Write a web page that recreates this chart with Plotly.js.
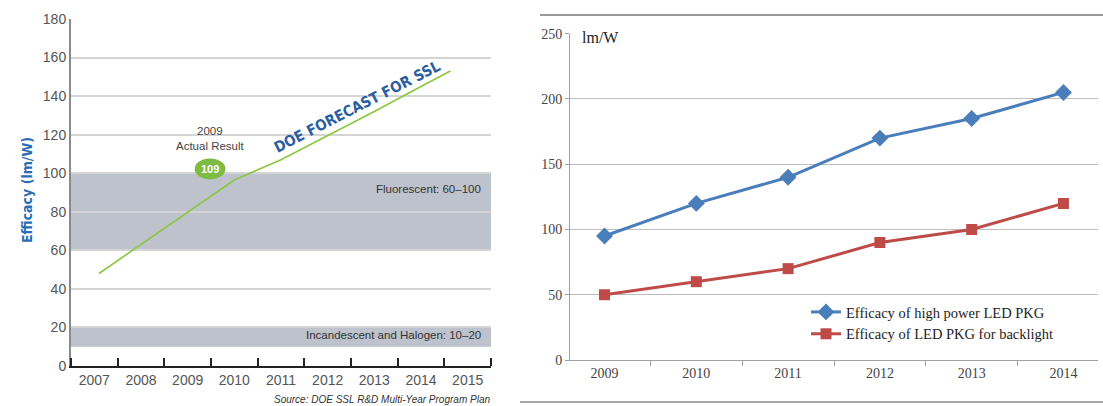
<!DOCTYPE html>
<html>
<head>
<meta charset="utf-8">
<script src="https://cdn.plot.ly/plotly-3.0.1.min.js"></script>
<style>html,body{margin:0;padding:0;background:#fff;}#chart{width:1103px;height:406px;}</style>
</head>
<body>
<div id="chart"></div>
<script>
// ---- Left chart: DOE forecast for SSL ----
const leftYears = [2007, 2008, 2009, 2010, 2011, 2012, 2013, 2014, 2015];
const leftYearLabels = ['2007', '2008', '2009', '2010', '2011', '2012', '2013', '2014', '2015'];
const forecastX = [2007.1, 2008, 2009, 2010, 2011, 2012, 2013, 2014, 2014.63];
const forecastY = [48, 63, 80, 96.5, 107, 119.5, 132, 145, 153];
const fluorescentBand = [60, 100];
const incandescentBand = [10, 20];
const actualYear = 2009.48;
const actualValue = 102.2;
const actualLabel = '109';

// ---- Right chart: LED package efficacy ----
const rightYears = ['2009', '2010', '2011', '2012', '2013', '2014'];
const highPowerPkg = [95, 120, 140, 170, 185, 205];
const backlightPkg = [50, 60, 70, 90, 100, 120];

const sans = 'Liberation Sans, Arial, sans-serif';
const narrow = 'Liberation Sans Narrow, DejaVu Sans Condensed, Liberation Sans, sans-serif';
const serif = 'Liberation Serif, Times New Roman, serif';

const traces = [
  {x: forecastX, y: forecastY, xaxis: 'x', yaxis: 'y', mode: 'lines',
   line: {color: '#8cc63f', width: 1.6}, showlegend: false, hoverinfo: 'skip'},
  {x: rightYears, y: highPowerPkg, xaxis: 'x2', yaxis: 'y2', mode: 'lines+markers',
   name: 'Efficacy of high power LED PKG',
   line: {color: '#4a7ebb', width: 3}, marker: {symbol: 'diamond', size: 13, color: '#4a7ebb'}},
  {x: rightYears, y: backlightPkg, xaxis: 'x2', yaxis: 'y2', mode: 'lines+markers',
   name: 'Efficacy of LED PKG for backlight',
   line: {color: '#be4b48', width: 3}, marker: {symbol: 'square', size: 11, color: '#be4b48'}}
];

const W = 1103, H = 406;
const px = v => v / W;
const py = v => (H - v) / H;

const layout = {
  width: W, height: H,
  margin: {l: 0, r: 0, t: 0, b: 0},
  paper_bgcolor: '#ffffff', plot_bgcolor: 'rgba(0,0,0,0)',
  font: {family: sans},
  xaxis: {
    domain: [px(71), px(491)], anchor: 'y',
    range: [2006.5, 2015.5], tickmode: 'array', tickvals: leftYears, ticktext: leftYearLabels,
    ticks: '', showgrid: false, zeroline: false,
    showline: true, linecolor: '#222', linewidth: 2,
    tickfont: {family: sans, size: 14, color: '#555'},
    minor: {ticks: 'inside', tick0: 2006.5, dtick: 1, ticklen: 8, tickwidth: 2, tickcolor: '#222', showgrid: false}
  },
  yaxis: {
    domain: [py(366), py(19)], anchor: 'x',
    range: [0, 180], dtick: 20, ticks: '',
    showgrid: true, gridcolor: '#d4d4d4', gridwidth: 2, zeroline: false,
    showline: true, linecolor: '#8a8a8a', linewidth: 2,
    tickfont: {family: sans, size: 14, color: '#555'}
  },
  xaxis2: {
    domain: [px(570), px(1098)], anchor: 'y2', type: 'category',
    tickson: 'boundaries', ticks: 'outside', ticklen: 5, tickcolor: '#a0a0a0',
    showgrid: false, zeroline: false,
    showline: true, linecolor: '#a0a0a0', linewidth: 1,
    tickfont: {family: serif, size: 14, color: '#444'}
  },
  yaxis2: {
    domain: [py(360), py(33.7)], anchor: 'x2',
    range: [0, 250], dtick: 50, ticks: 'outside', ticklen: 4, tickcolor: '#a0a0a0',
    showgrid: true, gridcolor: '#bdbdbd', gridwidth: 1, zeroline: false,
    showline: true, linecolor: '#a0a0a0', linewidth: 1,
    tickfont: {family: serif, size: 14, color: '#444'}
  },
  showlegend: true,
  legend: {
    x: px(806), y: py(296), xanchor: 'left', yanchor: 'top',
    bgcolor: 'rgba(0,0,0,0)', font: {family: serif, size: 14.5, color: '#222'},
    tracegroupgap: 0, itemwidth: 30
  },
  shapes: [
    {type: 'rect', xref: 'x', yref: 'y', x0: 2006.5, x1: 2015.5, y0: fluorescentBand[0], y1: fluorescentBand[1],
     fillcolor: '#bec2cc', line: {width: 0}, layer: 'below'},
    {type: 'rect', xref: 'x', yref: 'y', x0: 2006.5, x1: 2015.5, y0: incandescentBand[0], y1: incandescentBand[1],
     fillcolor: '#bec2cc', line: {width: 0}, layer: 'below'},
    {type: 'circle', xref: 'x', yref: 'y', x0: actualYear - 0.33, x1: actualYear + 0.33,
     y0: actualValue - 5.4, y1: actualValue + 5.4, fillcolor: '#7dbb42', line: {width: 0}, layer: 'above'},
    {type: 'line', xref: 'paper', yref: 'paper', x0: px(540), x1: 1, y0: py(15), y1: py(15),
     line: {color: '#9a9a9a', width: 2}},
    {type: 'line', xref: 'paper', yref: 'paper', x0: px(520), x1: 1, y0: py(402), y1: py(402),
     line: {color: '#a8a8a8', width: 2}}
  ],
  annotations: [
    {xref: 'paper', yref: 'paper', x: px(17), y: py(190), text: '<b>Efficacy (lm/W)</b>', textangle: -90,
     showarrow: false, font: {family: narrow, size: 14, color: '#2a6db5'}},
    {xref: 'x', yref: 'y', x: actualYear, y: 118, text: '2009<br>Actual Result', showarrow: false,
     font: {family: sans, size: 11.5, color: '#444'}, align: 'center'},
    {xref: 'x', yref: 'y', x: actualYear, y: actualValue, text: '<b>' + actualLabel + '</b>', showarrow: false,
     font: {family: sans, size: 11, color: '#ffffff'}},
    {xref: 'x', yref: 'y', x: 2012.62, y: 134.5, text: '<b>DOE FORECAST FOR SSL</b>', textangle: -27,
     showarrow: false, font: {family: narrow, size: 15, color: '#2b5e9f'}},
    {xref: 'x', yref: 'y', x: 2015.32, y: 92, xanchor: 'right', text: 'Fluorescent: 60\u2013100', showarrow: false,
     font: {family: sans, size: 11.5, color: '#333'}},
    {xref: 'x', yref: 'y', x: 2015.32, y: 16, xanchor: 'right', text: 'Incandescent and Halogen: 10\u201320', showarrow: false,
     font: {family: sans, size: 11.5, color: '#333'}},
    {xref: 'paper', yref: 'paper', x: px(492), y: py(399), xanchor: 'right', yanchor: 'middle',
     text: '<i>Source: DOE SSL R&amp;D Multi-Year Program Plan</i>', showarrow: false,
     font: {family: sans, size: 10, color: '#333'}},
    {xref: 'paper', yref: 'paper', x: px(600), y: py(27), text: 'lm/W', showarrow: false,
     font: {family: serif, size: 16, color: '#222'}}
  ]
};

Plotly.newPlot('chart', traces, layout, {staticPlot: true, displayModeBar: false});
</script>
</body>
</html>
